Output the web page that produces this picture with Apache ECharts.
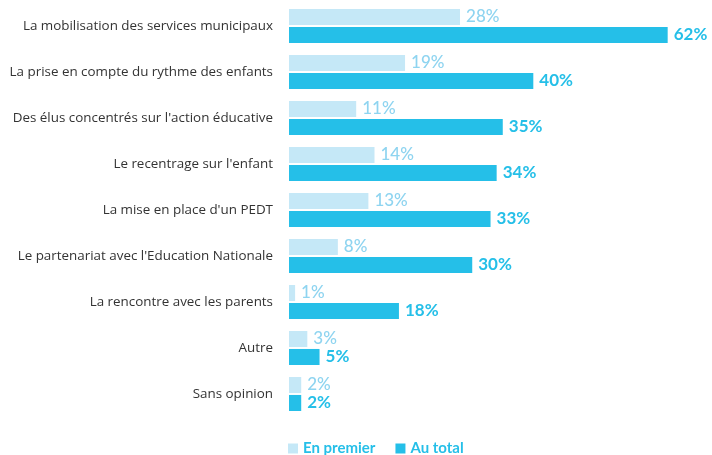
<!DOCTYPE html>
<html>
<head>
<meta charset="utf-8">
<script src="https://cdn.jsdelivr.net/npm/echarts@6/dist/echarts.min.js"></script>
<style>
  html, body { margin: 0; padding: 0; background: #fff; }
  #chart { width: 712px; height: 455px; }
</style>
</head>
<body>
<div id="chart"></div>
<script>
// catégories (de haut en bas)
const categories = [
  'La mobilisation des services municipaux',
  'La prise en compte du rythme des enfants',
  "Des élus concentrés sur l'action éducative",
  "Le recentrage sur l'enfant",
  "La mise en place d'un PEDT",
  "Le partenariat avec l'Education Nationale",
  'La rencontre avec les parents',
  'Autre',
  'Sans opinion'
];
const enPremier = [28, 19, 11, 14, 13, 8, 1, 3, 2];
const auTotal = [62, 40, 35, 34, 33, 30, 18, 5, 2];

const lightColor = '#C5E8F7';
const darkColor = '#25BFE8';
const font = 'Lato, "Open Sans", sans-serif';

const chart = echarts.init(document.getElementById('chart'));
chart.setOption({
  animation: false,
  grid: { left: 289, right: 26, top: 3, height: 414 },
  legend: {
    top: 436,
    left: 283,
    icon: 'rect',
    itemWidth: 10,
    itemHeight: 10,
    itemGap: 20,
    textStyle: { color: darkColor, fontSize: 15, fontWeight: 'bold', fontFamily: font },
    data: ['En premier', 'Au total']
  },
  xAxis: {
    type: 'value',
    min: 0,
    max: 65,
    show: false
  },
  yAxis: {
    type: 'category',
    data: categories,
    inverse: true,
    axisLine: { show: false },
    axisTick: { show: false },
    axisLabel: { color: '#333', fontSize: 13.4, fontFamily: '"Open Sans", sans-serif', margin: 16 }
  },
  series: [
    {
      name: 'En premier',
      type: 'bar',
      data: enPremier,
      itemStyle: { color: lightColor },
      barGap: '12%',
      barCategoryGap: '26%',
      label: {
        show: true,
        position: 'right',
        distance: 6,
        formatter: '{c}%',
        color: '#8ED4F0',
        fontSize: 17,
        fontWeight: 500,
        fontFamily: font
      }
    },
    {
      name: 'Au total',
      type: 'bar',
      data: auTotal,
      itemStyle: { color: darkColor },
      label: {
        show: true,
        position: 'right',
        distance: 6,
        formatter: '{c}%',
        color: darkColor,
        fontSize: 17,
        fontWeight: 'bold',
        fontFamily: font
      }
    }
  ]
});
</script>
</body>
</html>
